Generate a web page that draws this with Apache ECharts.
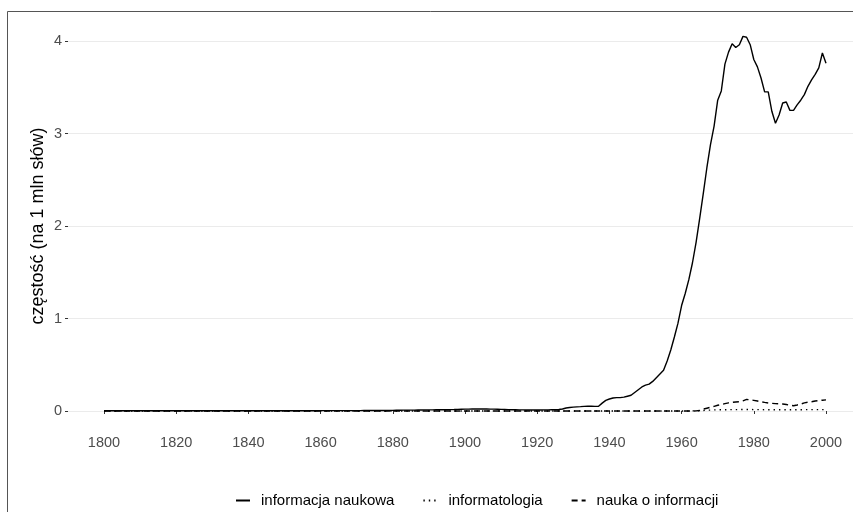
<!DOCTYPE html>
<html>
<head>
<meta charset="utf-8">
<script src="https://cdn.jsdelivr.net/npm/echarts@6/dist/echarts.min.js"></script>
<style>
html,body{margin:0;padding:0;background:#fff;}
#chart{width:853px;height:512px;}
</style>
</head>
<body>
<div id="chart"></div>
<script>
// ---- data ----
const years = [];
for (let y = 1800; y <= 2000; y++) years.push(y);

const seriesNames = ['informacja naukowa', 'informatologia', 'nauka o informacji'];

const informacjaNaukowa = [
  0.002,0.002,0.002,0.002,0.002,0.002,0.002,0.002,0.002,0.002,
  0.002,0.002,0.002,0.002,0.002,0.002,0.002,0.002,0.002,0.002,
  0.002,0.002,0.002,0.002,0.002,0.002,0.002,0.002,0.002,0.002,
  0.003,0.003,0.003,0.003,0.003,0.003,0.003,0.003,0.003,0.003,
  0.003,0.003,0.003,0.003,0.003,0.003,0.003,0.003,0.003,0.003,
  0.003,0.003,0.003,0.003,0.003,0.003,0.003,0.003,0.003,0.003,
  0.004,0.004,0.004,0.004,0.004,0.004,0.004,0.004,0.004,0.004,
  0.004,0.004,0.005,0.005,0.005,0.005,0.006,0.006,0.006,0.007,
  0.007,0.008,0.008,0.009,0.009,0.010,0.010,0.011,0.011,0.012,
  0.012,0.012,0.013,0.013,0.014,0.014,0.015,0.016,0.018,0.019,
  0.020,0.020,0.021,0.021,0.022,0.022,0.021,0.020,0.020,0.019,
  0.018,0.017,0.015,0.014,0.013,0.012,0.012,0.011,0.011,0.011,
  0.011,0.011,0.012,0.012,0.013,0.014,0.016,0.022,0.032,0.038,
  0.042,0.045,0.047,0.050,0.052,0.052,0.050,0.052,0.085,0.115,
  0.13,0.14,0.145,0.145,0.15,0.16,0.17,0.20,0.23,0.26,
  0.28,0.29,0.32,0.36,0.40,0.44,0.54,0.66,0.80,0.95,
  1.14,1.27,1.42,1.60,1.82,2.08,2.35,2.63,2.88,3.08,
  3.36,3.46,3.75,3.88,3.97,3.93,3.96,4.05,4.04,3.96,
  3.80,3.72,3.60,3.45,3.45,3.24,3.11,3.20,3.33,3.34,
  3.25,3.25,3.31,3.36,3.42,3.51,3.58,3.64,3.71,3.87,
  3.76
];

const informatologia = [
  0,0,0,0,0,0,0,0,0,0,
  0,0,0,0,0,0,0,0,0,0,
  0,0,0,0,0,0,0,0,0,0,
  0,0,0,0,0,0,0,0,0,0,
  0,0,0,0,0,0,0,0,0,0,
  0,0,0,0,0,0,0,0,0,0,
  0,0,0,0,0,0,0,0,0,0,
  0,0,0,0,0,0,0,0,0,0,
  0,0,0,0,0,0,0,0,0,0,
  0,0,0,0,0,0,0,0,0,0,
  0,0,0,0,0,0,0,0,0,0,
  0,0,0,0,0,0,0,0,0,0,
  0,0,0,0,0,0,0,0,0,0,
  0,0,0,0,0,0,0,0,0,0,
  0,0,0,0,0,0,0,0,0,0,
  0,0,0,0,0,0,0,0,0,0,
  0,0,0,0.001,0.002,0.004,0.006,0.008,0.010,0.012,
  0.013,0.013,0.014,0.014,0.015,0.015,0.015,0.016,0.016,0.016,
  0.015,0.015,0.015,0.014,0.014,0.014,0.014,0.013,0.013,0.013,
  0.013,0.013,0.014,0.014,0.014,0.015,0.015,0.015,0.015,0.015,
  0.015
];

const naukaOInformacji = [
  0,0,0,0,0,0,0,0,0,0,
  0,0,0,0,0,0,0,0,0,0,
  0,0,0,0,0,0,0,0,0,0,
  0,0,0,0,0,0,0,0,0,0,
  0,0,0,0,0,0,0,0,0,0,
  0,0,0,0,0,0,0,0,0,0,
  0,0,0,0,0,0,0,0,0,0,
  0,0,0,0,0,0,0,0,0,0,
  0,0,0,0,0,0,0,0,0,0,
  0,0,0,0,0,0,0,0,0,0,
  0,0,0,0,0,0,0,0,0,0,
  0,0,0,0,0,0,0,0,0,0,
  0,0,0,0,0,0,0,0,0,0,
  0,0,0,0,0,0,0,0,0,0,
  0,0,0,0,0,0,0,0,0,0,
  0,0,0,0,0,0,0,0,0,0,
  0,0,0,0,0.001,0.005,0.02,0.03,0.04,0.05,
  0.062,0.07,0.08,0.088,0.093,0.097,0.10,0.11,0.125,0.122,
  0.115,0.108,0.10,0.093,0.087,0.083,0.08,0.078,0.076,0.07,
  0.063,0.057,0.065,0.075,0.088,0.095,0.10,0.108,0.113,0.117,
  0.12
];

const xTicks = { min: 1800, max: 2000, step: 20 };
const yTicks = { min: 0, max: 4, step: 1 };

// ---- chart ----
const FONT = '"Liberation Sans", Arial, Helvetica, sans-serif';
const pairs = arr => years.map((y, i) => [y, arr[i]]);

const chart = echarts.init(document.getElementById('chart'), null, { renderer: 'canvas' });

const lineBase = {
  type: 'line',
  xAxisIndex: 1,
  yAxisIndex: 1,
  symbol: 'none',
  showSymbol: false,
  clip: false,
  animation: false,
  silent: true
};

chart.setOption({
  animation: false,
  backgroundColor: '#ffffff',
  textStyle: { fontFamily: FONT },
  graphic: [{
    type: 'rect',
    shape: { x: 7.5, y: 11.5, width: 900, height: 600 },
    style: { fill: 'none', stroke: '#555555', lineWidth: 1 },
    silent: true,
    z: 100
  }],
  grid: [
    { left: 68, top: 41, width: 794, height: 370, containLabel: false },
    { left: 104, top: 41, width: 722, height: 370, containLabel: false }
  ],
  xAxis: [
    { gridIndex: 0, type: 'value', min: 1790, max: 2010, show: false },
    {
      gridIndex: 1, type: 'value',
      min: xTicks.min, max: xTicks.max, interval: xTicks.step,
      offset: 19,
      axisLine: { show: false },
      axisTick: { show: true, length: 3, lineStyle: { color: '#333333', width: 1 } },
      axisLabel: { color: '#4D4D4D', fontSize: 14.5, margin: 5, fontFamily: FONT,
                   formatter: v => String(v) },
      splitLine: { show: false }
    }
  ],
  yAxis: [
    {
      gridIndex: 0, type: 'value',
      min: yTicks.min, max: yTicks.max, interval: yTicks.step,
      name: 'częstość (na 1 mln słów)',
      nameLocation: 'middle',
      nameRotate: 90,
      nameGap: 21,
      nameMoveOverlap: false,
      nameTextStyle: { color: '#000000', fontSize: 18, fontFamily: FONT },
      axisLine: { show: false },
      axisTick: { show: true, length: 3, lineStyle: { color: '#333333', width: 1 } },
      axisLabel: { color: '#4D4D4D', fontSize: 14.5, margin: 6, fontFamily: FONT },
      splitLine: { show: true, lineStyle: { color: '#EBEBEB', width: 1.2 } }
    },
    {
      gridIndex: 1, type: 'value',
      min: yTicks.min, max: yTicks.max, interval: yTicks.step,
      show: false, splitLine: { show: false }
    }
  ],
  legend: {
    left: 230,
    top: 488,
    orient: 'horizontal',
    itemWidth: 14,
    itemHeight: 10,
    itemGap: 28,
    itemStyle: { opacity: 0 },
    textStyle: { color: '#000000', fontSize: 15, fontFamily: FONT, padding: [0, 0, 0, 6] },
    data: seriesNames
  },
  series: [
    Object.assign({}, lineBase, {
      name: seriesNames[0],
      data: pairs(informacjaNaukowa),
      lineStyle: { color: '#000000', width: 1.4, type: 'solid' },
      itemStyle: { color: '#000000' }
    }),
    Object.assign({}, lineBase, {
      name: seriesNames[1],
      data: pairs(informatologia),
      lineStyle: { color: '#000000', width: 1.4, type: [1.4, 4] },
      itemStyle: { color: '#000000' }
    }),
    Object.assign({}, lineBase, {
      name: seriesNames[2],
      data: pairs(naukaOInformacji),
      lineStyle: { color: '#000000', width: 1.4, type: [6, 4] },
      itemStyle: { color: '#000000' }
    })
  ]
});
</script>
</body>
</html>
